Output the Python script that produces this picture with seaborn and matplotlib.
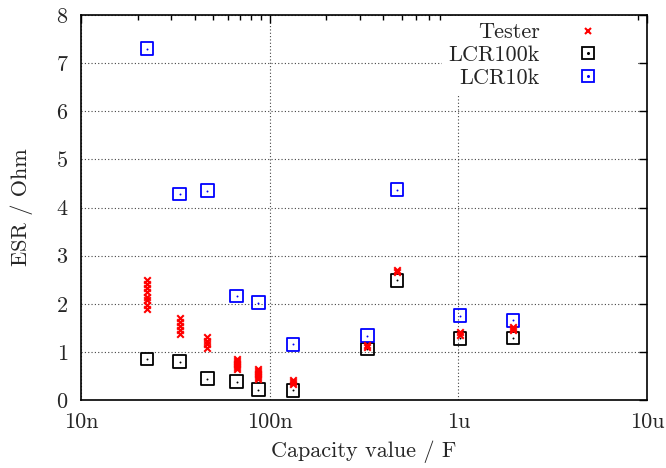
import matplotlib
matplotlib.use("Agg")
import numpy as np
import pandas as pd
import seaborn as sns
import matplotlib.pyplot as plt
from matplotlib.lines import Line2D
from matplotlib.ticker import FixedLocator, LogLocator, NullFormatter, FixedFormatter

# ---- data ----
lcr_cap = [22.4e-9, 33.3e-9, 46.7e-9, 67e-9, 87e-9, 133e-9, 330e-9, 473e-9, 1.02e-6, 1.95e-6]
lcr100k_esr = [0.85, 0.80, 0.44, 0.38, 0.21, 0.20, 1.06, 2.49, 1.28, 1.29]
lcr10k_esr = [7.30, 4.28, 4.35, 2.16, 2.02, 1.16, 1.34, 4.37, 1.75, 1.66]

tester_cap = ([22.4e-9] * 8 + [33.3e-9] * 5 + [46.7e-9] * 4 + [67e-9] * 6 +
              [87e-9] * 6 + [133e-9] * 3 + [330e-9] * 2 + [473e-9] * 2 +
              [1.02e-6] * 2 + [1.95e-6] * 3)
tester_esr = [2.50, 2.41, 2.33, 2.24, 2.15, 2.07, 1.98, 1.89,
              1.70, 1.62, 1.54, 1.46, 1.38,
              1.31, 1.23, 1.16, 1.08,
              0.85, 0.81, 0.77, 0.73, 0.68, 0.64,
              0.64, 0.60, 0.56, 0.52, 0.48, 0.44,
              0.41, 0.37, 0.33,
              1.15, 1.11,
              2.70, 2.66,
              1.41, 1.35,
              1.52, 1.48, 1.45]

x_ticks = [1e-8, 1e-7, 1e-6, 1e-5]
x_tick_labels = ["10n", "100n", "1u", "10u"]
y_ticks = [0, 1, 2, 3, 4, 5, 6, 7, 8]

df_t = pd.DataFrame({"cap": tester_cap, "esr": tester_esr})
df_l = pd.DataFrame({"cap": lcr_cap, "esr100k": lcr100k_esr, "esr10k": lcr10k_esr})

# ---- style ----
sns.set_style("white")
plt.rcParams["font.family"] = ["cmr10", "DejaVu Serif"]
plt.rcParams["axes.formatter.use_mathtext"] = True

FS = 16
fig = plt.figure(figsize=(6.66, 4.68), dpi=100)
ax = fig.add_axes([81 / 666, 68 / 468, 566 / 666, 385 / 468])

sq_size = 85
sns.scatterplot(data=df_l, x="cap", y="esr100k", ax=ax, marker="s", s=sq_size,
                facecolor="none", edgecolor="black", linewidth=1.3, zorder=3)
sns.scatterplot(data=df_l, x="cap", y="esr100k", ax=ax, marker="o", s=2,
                color="black", linewidth=0, zorder=3)
sns.scatterplot(data=df_l, x="cap", y="esr10k", ax=ax, marker="s", s=sq_size,
                facecolor="none", edgecolor="#0000ff", linewidth=1.3, zorder=3)
sns.scatterplot(data=df_l, x="cap", y="esr10k", ax=ax, marker="o", s=2,
                color="#0000ff", linewidth=0, zorder=3)
sns.scatterplot(data=df_t, x="cap", y="esr", ax=ax, marker="x", s=22,
                color="red", linewidth=1.5, zorder=4)

ax.set_xscale("log")
ax.set_xlim(1e-8, 1e-5)
ax.set_ylim(0, 8)
ax.xaxis.set_major_locator(FixedLocator(x_ticks))
ax.xaxis.set_major_formatter(FixedFormatter(x_tick_labels))
ax.xaxis.set_minor_locator(LogLocator(base=10, subs=np.arange(2, 10)))
ax.xaxis.set_minor_formatter(NullFormatter())
ax.yaxis.set_major_locator(FixedLocator(y_ticks))

ax.tick_params(which="both", direction="in", top=True, right=True, labelsize=FS,
               color="black", width=1.0)
ax.tick_params(which="major", length=6)
ax.tick_params(axis="x", which="major", pad=9)
ax.tick_params(axis="y", which="major", pad=9)
ax.tick_params(which="minor", length=3.5)
for sp in ax.spines.values():
    sp.set_color("black")
    sp.set_linewidth(1.2)

ax.grid(True, which="major", color="#444444", linestyle=(0, (1, 2)), linewidth=0.8)
ax.set_axisbelow(True)

ax.set_xlabel("Capacity value / F", fontsize=FS, labelpad=6)
ax.set_ylabel("ESR / Ohm", fontsize=FS, labelpad=16)

h_t = Line2D([], [], marker="x", color="red", linestyle="none", markersize=5, markeredgewidth=1.5)
h_b = (Line2D([], [], marker="s", markerfacecolor="none", markeredgecolor="black", linestyle="none",
              markersize=8.5, markeredgewidth=1.3),
       Line2D([], [], marker="o", color="black", linestyle="none", markersize=1.2))
h_u = (Line2D([], [], marker="s", markerfacecolor="none", markeredgecolor="#0000ff", linestyle="none",
              markersize=8.5, markeredgewidth=1.3),
       Line2D([], [], marker="o", color="#0000ff", linestyle="none", markersize=1.2))
leg = ax.legend([h_t, h_b, h_u], ["Tester", "LCR100k", "LCR10k"], loc="upper right",
                bbox_to_anchor=(0.9806, 0.997), borderaxespad=0, markerfirst=False, fontsize=FS,
                frameon=True, fancybox=False, framealpha=1, edgecolor="white",
                facecolor="white", handlelength=3.72, handletextpad=0.3,
                labelspacing=0.14, borderpad=0.3)
leg.set_zorder(2.2)

fig.savefig("out.png", dpi=100)
